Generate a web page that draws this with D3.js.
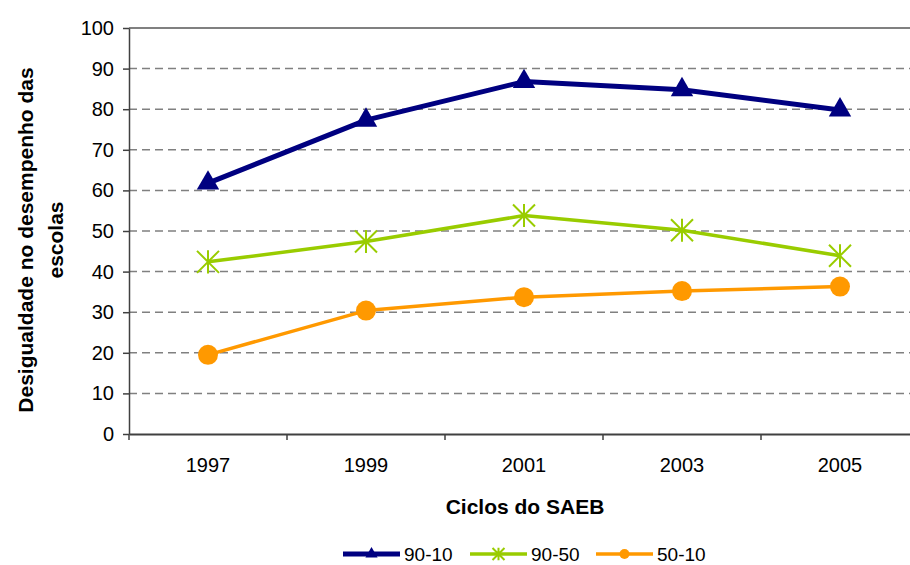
<!DOCTYPE html>
<html>
<head>
<meta charset="utf-8">
<script src="https://cdn.jsdelivr.net/npm/d3@7/dist/d3.min.js"></script>
<style>
  body { margin: 0; background: #fff; overflow: hidden; }
  svg { display: block; font-family: "Liberation Sans", Arial, sans-serif; }
</style>
</head>
<body>
<svg id="chart"></svg>
<script>
// data
const years = ["1997", "1999", "2001", "2003", "2005"];
const s9010 = [61.8, 77.3, 86.8, 84.8, 79.8];
const s9050 = [42.4, 47.4, 53.8, 50.2, 43.9];
const s5010 = [19.5, 30.4, 33.7, 35.2, 36.3];
const yTicks = [0, 10, 20, 30, 40, 50, 60, 70, 80, 90, 100];
const seriesNames = ["90-10", "90-50", "50-10"];

const width = 910, height = 565;
const margin = { top: 28, right: -9, bottom: 131, left: 129 };
const fontFamily = "Liberation Sans, Arial, sans-serif";

const series = [
  { name: seriesNames[0], values: s9010, color: "#000080", width: 5, marker: "triangle" },
  { name: seriesNames[1], values: s9050, color: "#99CC00", width: 3.5, marker: "star" },
  { name: seriesNames[2], values: s5010, color: "#FF9900", width: 3.5, marker: "circle" }
];

const svg = d3.select("#chart").attr("width", width).attr("height", height);

const x = d3.scaleBand()
  .domain(years)
  .range([margin.left, width - margin.right]);

const y = d3.scaleLinear()
  .domain([0, 100])
  .range([height - margin.bottom, margin.top]);

// gridlines (top one solid = plot border)
svg.append("g")
  .selectAll("line")
  .data(yTicks.filter(d => d > 0))
  .join("line")
  .attr("x1", margin.left)
  .attr("x2", width - margin.right)
  .attr("y1", d => y(d))
  .attr("y2", d => y(d))
  .attr("stroke", "#808080")
  .attr("stroke-width", d => d === 100 ? 2 : 1.5)
  .attr("stroke-dasharray", d => d === 100 ? null : "8,5");

// y axis
const yAxis = svg.append("g")
  .attr("transform", `translate(${margin.left},0)`)
  .call(d3.axisLeft(y).tickValues(yTicks).tickSize(6).tickSizeOuter(0).tickPadding(9));
yAxis.select(".domain").attr("stroke", "#404040").attr("stroke-width", 1.5);
yAxis.selectAll(".tick line").attr("stroke", "#404040").attr("stroke-width", 1.5);
yAxis.selectAll("text").attr("font-size", 20).attr("fill", "#000").attr("font-family", fontFamily);

// x axis
const xAxis = svg.append("g")
  .attr("transform", `translate(0,${y(0)})`)
  .call(d3.axisBottom(x).tickSize(0).tickPadding(24));
xAxis.select(".domain").attr("stroke", "#404040").attr("stroke-width", 2);
xAxis.selectAll("text").attr("font-size", 20).attr("fill", "#000").attr("font-family", fontFamily);

// x tick marks at band boundaries
svg.append("g")
  .selectAll("line")
  .data(years.map(d => x(d)).concat([x(years[years.length - 1]) + x.bandwidth()]))
  .join("line")
  .attr("x1", d => d).attr("x2", d => d)
  .attr("y1", y(0)).attr("y2", y(0) + 6)
  .attr("stroke", "#404040").attr("stroke-width", 1.5);

// axis titles
svg.append("text")
  .attr("x", 525).attr("y", 514)
  .attr("text-anchor", "middle")
  .attr("font-size", 21).attr("font-weight", "bold")
  .text("Ciclos do SAEB");

const yTitle = svg.append("text")
  .attr("transform", "translate(0,240) rotate(-90)")
  .attr("text-anchor", "middle")
  .attr("font-size", 21).attr("font-weight", "bold");
yTitle.append("tspan").attr("x", 0).attr("y", 33).text("Desigualdade no desempenho das");
yTitle.append("tspan").attr("x", 0).attr("y", 63).text("escolas");

// markers
function drawMarker(g, type, color, size) {
  if (type === "triangle") {
    g.append("path")
      .attr("d", d3.symbol(d3.symbolTriangle, size * size * 0.45)())
      .attr("fill", color);
  } else if (type === "circle") {
    g.append("circle").attr("r", size / 2).attr("fill", color);
  } else {
    const r = size / 2;
    const p = `M${-r},${-r}L${r},${r}M${-r},${r}L${r},${-r}M0,${-r * 1.05}L0,${r * 1.05}`;
    g.append("path").attr("d", p).attr("stroke", color).attr("stroke-width", 2).attr("fill", "none");
  }
}

const line = d3.line()
  .x((d, i) => x(years[i]) + x.bandwidth() / 2)
  .y(d => y(d));

series.forEach(s => {
  svg.append("path")
    .datum(s.values)
    .attr("fill", "none")
    .attr("stroke", s.color)
    .attr("stroke-width", s.width)
    .attr("stroke-linejoin", "round")
    .attr("d", line);

  s.values.forEach((v, i) => {
    const g = svg.append("g")
      .attr("transform", `translate(${x(years[i]) + x.bandwidth() / 2},${y(v)})`);
    drawMarker(g, s.marker, s.color, s.marker === "circle" ? 20 : 22);
  });
});

// legend
const legendX = [343, 470, 596];
const legend = svg.append("g");
series.forEach((s, i) => {
  const g = legend.append("g").attr("transform", `translate(${legendX[i]},554)`);
  g.append("line")
    .attr("x1", 0).attr("x2", 57)
    .attr("y1", 0).attr("y2", 0)
    .attr("stroke", s.color).attr("stroke-width", s.width);
  const m = g.append("g").attr("transform", "translate(28.5,0)");
  drawMarker(m, s.marker, s.color, s.marker === "circle" ? 10 : 12);
  g.append("text")
    .attr("x", 61).attr("y", 6.5)
    .attr("font-size", 19)
    .text(s.name);
});
</script>
</body>
</html>
